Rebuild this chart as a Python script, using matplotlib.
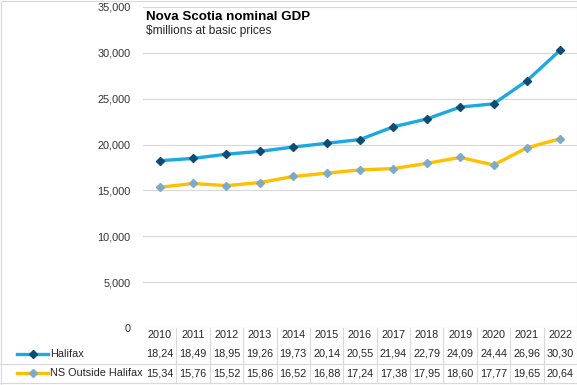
import matplotlib
matplotlib.use('Agg')
import matplotlib.pyplot as plt
from matplotlib.lines import Line2D
from matplotlib.patches import Rectangle
from matplotlib.transforms import blended_transform_factory

years = ["2010", "2011", "2012", "2013", "2014", "2015", "2016", "2017", "2018", "2019", "2020", "2021", "2022"]
halifax = [18240, 18490, 18950, 19260, 19730, 20140, 20550, 21940, 22790, 24090, 24440, 26960, 30300]
ns_outside = [15340, 15760, 15520, 15860, 16520, 16880, 17240, 17380, 17950, 18600, 17770, 19650, 20640]
halifax_labels = ["18,24", "18,49", "18,95", "19,26", "19,73", "20,14", "20,55", "21,94", "22,79", "24,09", "24,44", "26,96", "30,30"]
ns_labels = ["15,34", "15,76", "15,52", "15,86", "16,52", "16,88", "17,24", "17,38", "17,95", "18,60", "17,77", "19,65", "20,64"]
series_names = ["Halifax", "NS Outside Halifax"]
yticks = [0, 5000, 10000, 15000, 20000, 25000, 30000, 35000]
ytick_labels = ["0", "5,000", "10,000", "15,000", "20,000", "25,000", "30,000", "35,000"]
title = "Nova Scotia nominal GDP"
subtitle = "$millions at basic prices"

plt.rcParams['font.family'] = ['Liberation Sans', 'DejaVu Sans']

W, H = 577, 385
fig = plt.figure(figsize=(W / 100, H / 100), dpi=100)
fig.patch.set_facecolor('white')

left_px, right_px, top_px, bot_px = 143, 577, 7, 328
ax = fig.add_axes([left_px / W, 1 - bot_px / H, (right_px - left_px) / W, (bot_px - top_px) / H])
ax.set_xlim(-0.5, len(years) - 0.5)
ax.set_ylim(0, 35000)
for s in ax.spines.values():
    s.set_visible(False)
ax.set_yticks(yticks, ytick_labels)
ax.set_xticks([])
ax.tick_params(axis='y', length=0, pad=9, labelsize=7.8, labelcolor='#333333')
ax.grid(axis='y', color='#D9D9D9', lw=0.8)
ax.set_axisbelow(True)

hal_line = '#1CA8E0'
hal_mark = '#0F4C72'
ns_line = '#FFC000'
ns_mark = '#7EAAC8'

x = list(range(len(years)))
ax.plot(x, halifax, color=hal_line, lw=2.4, marker='D', ms=3.6, mfc=hal_mark, mec=hal_mark, zorder=3)
ax.plot(x, ns_outside, color=ns_line, lw=2.4, marker='D', ms=3.6, mfc=ns_mark, mec=ns_mark, zorder=3)

# Title
fig.text(146 / W, 1 - 17 / H, title, fontsize=9.6, fontweight='bold', va='center', ha='left', color='black')
fig.text(146 / W, 1 - 31 / H, subtitle, fontsize=8.6, va='center', ha='left', color='#262626')

# Data table
trans = blended_transform_factory(ax.transData, fig.transFigure)
row_y = [335, 354, 373]
tcol = '#262626'
fs = 7.8
for i, yr in enumerate(years):
    ax.text(i, 1 - row_y[0] / H, yr, transform=trans, ha='center', va='center', fontsize=fs, color=tcol, clip_on=False)
    ax.text(i, 1 - row_y[1] / H, halifax_labels[i], transform=trans, ha='center', va='center', fontsize=fs, color=tcol, clip_on=False)
    ax.text(i, 1 - row_y[2] / H, ns_labels[i], transform=trans, ha='center', va='center', fontsize=fs, color=tcol, clip_on=False)

grid_c = '#D9D9D9'
for i in range(len(years) - 1):
    ax.plot([i + 0.5, i + 0.5], [1 - 328 / H, 1 - 383 / H], transform=trans, color=grid_c, lw=0.8, clip_on=False)
for yy in [364, 383]:
    fig.add_artist(Line2D([0, 1], [1 - yy / H, 1 - yy / H], color=grid_c, lw=0.8))

# Legend keys in table
for name, lc, mc, yy in [(series_names[0], hal_line, hal_mark, row_y[1]), (series_names[1], ns_line, ns_mark, row_y[2])]:
    yf = 1 - yy / H
    fig.add_artist(Line2D([17 / W, 48 / W], [yf, yf], color=lc, lw=2.4))
    fig.add_artist(Line2D([32.5 / W], [yf], marker='D', ms=3.6, mfc=mc, mec=mc, lw=0))
    fig.text(50 / W, yf, name, fontsize=fs, va='center', ha='left', color=tcol)

fig.add_artist(Rectangle((0.5 / W, 0.5 / H), 1 - 1 / W, 1 - 1 / H, transform=fig.transFigure,
                         fill=False, ec='#D9D9D9', lw=0.8))

fig.savefig('out.png', dpi=100)
